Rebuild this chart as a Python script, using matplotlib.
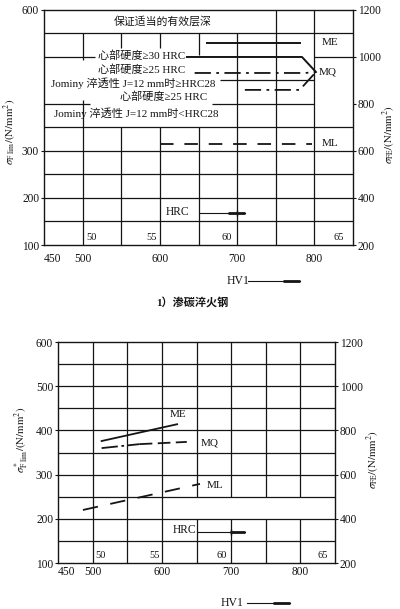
import matplotlib
matplotlib.use("Agg")
import matplotlib.pyplot as plt
from matplotlib.lines import Line2D

plt.rcParams['font.family'] = ['Liberation Serif', 'Noto Sans CJK SC']
plt.rcParams['mathtext.fontset'] = 'stix'
ink = '#151515'

# common axes: HV1 hardness on x, allowable stress on y
hv_ticks = [450, 500, 600, 700, 800]
hrc_labels = ["50", "55", "60", "65"]
hrc_pos = [512, 589, 687, 832]
left_ticks_top = [100, 200, 300, 600]
left_ticks_bot = [100, 200, 300, 400, 500, 600]
right_ticks = [200, 400, 600, 800, 1000, 1200]

# 1) case hardened steel
me1_hv = [661, 781]
me1_s = [530, 530]
core30_hv = [635, 784, 802]
core30_s = [500, 500, 468]
core25_hv = [645, 788, 802]
core25_s = [466, 466, 468]
jominy_hv = [710, 781, 802]
jominy_s = [430, 430, 468]
ml1_hv = [600, 797]
ml1_s = [315, 315]
hrc1_hv = [652, 710]
hrc1_s = [168, 168]

# 2) lower chart
me2_hv = [513, 622]
me2_s = [376, 414]
mq2_hv = [513, 568, 636]
mq2_s = [360, 369, 374]
ml2_hv = [486, 655]
ml2_s = [220, 279]
hrc2_hv = [652, 720]
hrc2_s = [170, 170]

full = [(100, 600)]
top_vgrid = {500: [(100, 409), (494, 550)], 550: [(100, 350), (520, 550)],
             600: [(100, 350), (520, 550)], 650: [(100, 350), (505, 550)],
             700: [(100, 550)], 750: full, 800: full}
top_hgrid = {550: [(450, 850)], 500: [(450, 516), (800, 850)],
             450: [(678, 800)], 400: [(450, 510), (667, 800)],
             350: [(450, 850)], 300: [(450, 850)], 250: [(450, 850)],
             200: [(450, 850)], 150: [(450, 850)]}
bot_vgrid = {500: full, 550: full, 600: full,
             650: [(100, 200), (250, 600)], 700: [(100, 200), (250, 600)],
             750: [(100, 200), (250, 600)], 800: [(100, 200), (250, 600)]}
bot_hgrid = {s: [(450, 850)] for s in [150, 200, 250, 300, 350, 400, 450, 500, 550]}


def draw_grid(ax, vgrid, hgrid):
    for x, segs in vgrid.items():
        for y0, y1 in segs:
            ax.plot([x, x], [y0, y1], color=ink, lw=0.9, solid_capstyle='butt')
    for y, segs in hgrid.items():
        for x0, x1 in segs:
            ax.plot([x0, x1], [y, y], color=ink, lw=0.9, solid_capstyle='butt')


def setup(ax, left_ticks, xpad):
    ax.set_xlim(450, 850)
    ax.set_ylim(100, 600)
    for sp in ax.spines.values():
        sp.set_color(ink)
        sp.set_linewidth(1.0)
    ax.set_xticks(hv_ticks)
    ax.set_xticklabels([str(v) for v in hv_ticks])
    ax.get_xticklabels()[0].set_horizontalalignment('left')
    ax.tick_params(axis='x', length=0, pad=xpad, labelsize=8.3, colors=ink)
    ax.set_yticks(left_ticks)
    ax.tick_params(axis='y', length=2, width=0.8, pad=1.5, labelsize=8.3, colors=ink)
    for pos, lab in zip(hrc_pos, hrc_labels):
        ax.text(pos, 116, lab, fontsize=7.5, ha='center', va='center', color=ink)
    axr = ax.twinx()
    axr.set_ylim(200, 1200)
    axr.set_yticks(right_ticks)
    axr.tick_params(axis='y', length=2, width=0.8, pad=1.5, labelsize=8.3, colors=ink)
    for sp in axr.spines.values():
        sp.set_visible(False)
    return axr


def hrc_arrow(ax, hv, s):
    ax.plot(hv, s, color=ink, lw=0.8)
    ax.plot([hv[1] - 22, hv[1]], s, color=ink, lw=2.0, solid_capstyle='butt')
    ax.plot([700], [s[0]], marker='|', ms=5, mew=1.0, color=ink)


def hv_arrow(ax, tx, ty, x0, xk, x1):
    ax.text(tx, ty, "HV1", transform=ax.transAxes, fontsize=8.5, ha='center',
            va='center', color=ink)
    ax.add_artist(Line2D([x0, x1], [ty, ty], transform=ax.transAxes, lw=0.8,
                         color=ink, clip_on=False))
    ax.add_artist(Line2D([xk, x1], [ty, ty], transform=ax.transAxes, lw=2.0,
                         color=ink, clip_on=False, solid_capstyle='butt'))


fig = plt.figure(figsize=(4.0, 6.09), dpi=100)

# ---- upper chart ----
ax1 = fig.add_axes([0.11, 0.5977, 0.7725, 0.3859])
draw_grid(ax1, top_vgrid, top_hgrid)
ax1r = setup(ax1, left_ticks_top, 6)

ax1.text(604, 577, "保证适当的有效层深", fontsize=7.8, ha='center', va='center', color=ink)
ax1.text(576, 503, "心部硬度≥30 HRC", fontsize=8, ha='center', va='center', color=ink)
ax1.text(577, 472, "心部硬度≥25 HRC", fontsize=8, ha='center', va='center', color=ink)
ax1.text(566, 445, "Jominy 淬透性 J=12 mm时≥HRC28", fontsize=8, ha='center',
         va='center', color=ink)
ax1.text(605, 415, "心部硬度≥25 HRC", fontsize=8, ha='center', va='center', color=ink)
ax1.text(569, 381, "Jominy 淬透性 J=12 mm时<HRC28", fontsize=8, ha='center',
         va='center', color=ink)

ax1.plot(me1_hv, me1_s, color=ink, lw=1.4)
ax1.plot(core30_hv, core30_s, color=ink, lw=1.4)
ax1.plot(core25_hv, core25_s, color=ink, lw=1.3, dashes=(9, 3, 1.5, 3))
ax1.plot(jominy_hv, jominy_s, color=ink, lw=1.3, dashes=(9, 3, 1.5, 3))
ax1.plot(ml1_hv, ml1_s, color=ink, lw=1.3, dashes=(7.5, 6))
ax1.text(809, 530, "ME", fontsize=8, ha='left', va='center', color=ink)
ax1.text(805, 468, "MQ", fontsize=8, ha='left', va='center', color=ink)
ax1.text(809, 316, "ML", fontsize=8, ha='left', va='center', color=ink)
ax1.text(623, 170, "HRC", fontsize=8.3, ha='center', va='center', color=ink)
hrc_arrow(ax1, hrc1_hv, hrc1_s)

ax1.text(-0.11, 0.48, r"$\sigma_{\mathrm{F\ lim}}/(\mathrm{N/mm^2})$", transform=ax1.transAxes,
         rotation=90, fontsize=7.8, ha='center', va='center', color=ink)
ax1.text(1.115, 0.47, r"$\sigma_{\mathrm{FE}}/(\mathrm{N/mm^2})$", transform=ax1.transAxes,
         rotation=90, fontsize=7.8, ha='center', va='center', color=ink)
hv_arrow(ax1, 0.628, -0.153, 0.66, 0.773, 0.828)
fig.text(0.48, 0.504, "1）渗碳淬火钢", fontsize=8, fontweight='bold', ha='center',
         va='center', color=ink)

# ---- lower chart ----
ax2 = fig.add_axes([0.145, 0.0755, 0.6925, 0.3629])
draw_grid(ax2, bot_vgrid, bot_hgrid)
ax2r = setup(ax2, left_ticks_bot, 2.5)

ax2.plot(me2_hv, me2_s, color=ink, lw=1.3)
ax2.plot(mq2_hv[:2], mq2_s[:2], color=ink, lw=1.3, dashes=(9, 2, 1.5, 2))
ax2.plot(mq2_hv[1:], mq2_s[1:], color=ink, lw=1.3, dashes=(7, 3))
ax2.plot(ml2_hv, ml2_s, color=ink, lw=1.3, dashes=(8.5, 7))
ax2.text(623, 437, "ME", fontsize=8, ha='center', va='center', color=ink)
ax2.text(669, 372, "MQ", fontsize=8, ha='center', va='center', color=ink)
ax2.text(677, 276, "ML", fontsize=8, ha='center', va='center', color=ink)
ax2.text(632, 175, "HRC", fontsize=8.3, ha='center', va='center', color=ink)
hrc_arrow(ax2, hrc2_hv, hrc2_s)

ax2.text(-0.13, 0.556, r"$\sigma^{*}_{\mathrm{F\ lim}}/(\mathrm{N/mm^2})$", transform=ax2.transAxes,
         rotation=90, fontsize=7.8, ha='center', va='center', color=ink)
ax2.text(1.134, 0.466, r"$\sigma_{\mathrm{FE}}/(\mathrm{N/mm^2})$", transform=ax2.transAxes,
         rotation=90, fontsize=7.8, ha='center', va='center', color=ink)
hv_arrow(ax2, 0.628, -0.181, 0.682, 0.776, 0.838)

fig.savefig("out.png", dpi=100)
